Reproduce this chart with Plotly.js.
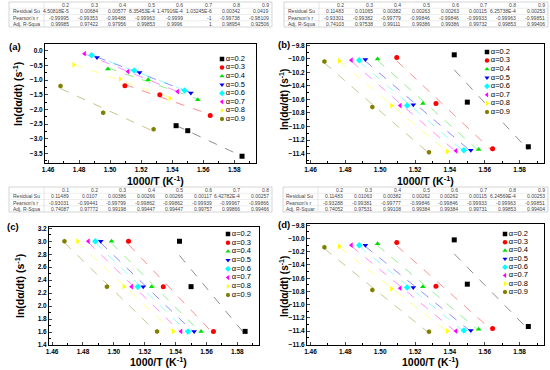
<!DOCTYPE html>
<html><head><meta charset="utf-8">
<script src="https://cdn.plot.ly/plotly-3.0.1.min.js"></script>
<style>html,body{margin:0;padding:0;background:#fff}#chart{width:550px;height:370px}</style>
</head><body><div id="chart"></div>
<script>
// ---------- data ----------
const alphaLabels = ['α=0.2','α=0.3','α=0.4','α=0.5','α=0.6','α=0.7','α=0.8','α=0.9'];
const colors = ['#000000','#ff0000','#00e000','#0000ff','#00ffff','#ff00ff','#ffff00','#808000'];
const symbols = ['square','circle','triangle-up','triangle-down','diamond','triangle-left','triangle-right','hexagon'];

// 1000/T for each alpha (three heating rates)
const invT = [
  [1.5425, 1.5500, 1.5850],
  [1.5095, 1.5320, 1.5645],
  [1.4985, 1.5245, 1.5565],
  [1.4915, 1.5190, 1.5520],
  [1.4880, 1.5155, 1.5480],
  [1.4835, 1.5115, 1.5435],
  [1.4765, 1.5065, 1.5385],
  [1.4680, 1.4955, 1.5280]
];
// panel (a)
const yA = [
  [-2.55, -2.72, -3.59],
  [-1.19, -1.50, -2.20],
  [-0.62, -0.99, -1.67],
  [-0.23, -0.74, -1.44],
  [-0.15, -0.67, -1.35],
  [-0.10, -0.71, -1.39],
  [-0.48, -0.96, -1.62],
  [-1.20, -2.11, -2.67]
];
// panel (b)
const yB = [
  [-9.94, -10.64, -11.30],
  [-9.98, -10.66, -11.33],
  [-10.00, -10.66, -11.34],
  [-10.01, -10.68, -11.35],
  [-10.02, -10.69, -11.35],
  [-10.02, -10.69, -11.36],
  [-10.03, -10.69, -11.37],
  [-10.04, -10.71, -11.38]
];
// panel (c)
const yC = [
  [3.00, 2.30, 1.61],
  [3.00, 2.30, 1.61],
  [3.00, 2.30, 1.61],
  [3.00, 2.30, 1.61],
  [3.00, 2.30, 1.61],
  [3.00, 2.30, 1.61],
  [3.00, 2.30, 1.61],
  [3.00, 2.30, 1.61]
];
// panel (d)
const yD = [
  [-10.02, -10.69, -11.33],
  [-10.06, -10.72, -11.36],
  [-10.08, -10.73, -11.37],
  [-10.10, -10.74, -11.39],
  [-10.10, -10.74, -11.39],
  [-10.10, -10.75, -11.40],
  [-10.12, -10.76, -11.40],
  [-10.13, -10.78, -11.41]
];

// ---------- tables ----------
const rowLabels = ['Residual Su', "Pearson's r", 'Adj. R-Squa'];
const rowLabelsD = ['Residual Su', "Pearson's r", 'Adj. R-Squar'];
const headA = ['0.2','0.3','0.4','0.5','0.6','0.7','0.8','0.9'];
const headC = ['0.1','0.2','0.3','0.4','0.5','0.6','0.7','0.8'];
const residA = ['4.50818E-5','0.00684','0.00577','8.35453E-4','1.47916E-4','1.03245E-6','0.00342','0.0419'];
const pearA  = ['-0.99995','-0.99353','-0.99488','-0.99963','-0.9999','-1','-0.99738','-0.98109'];
const adjA   = ['0.99985','0.97422','0.97956','0.99853','0.9996','1','0.98954','0.92506'];
const residB = ['0.11483','0.01065','0.00382','0.00263','0.00263','0.00115','6.25738E-4','0.00253'];
const pearB  = ['-0.93301','-0.99382','-0.99779','-0.99846','-0.99846','-0.99933','-0.99963','-0.99851'];
const adjB   = ['0.74103','0.97538','0.99111','0.99386','0.99386','0.99732','0.99853','0.99406'];
const residC = ['0.11489','0.0107','0.00386','0.00266','0.00266','0.00117','6.42782E-4','0.00257'];
const pearC  = ['-0.93031','-0.99441','-0.99799','-0.99862','-0.99862','-0.99939','-0.99967','-0.99866'];
const adjC   = ['0.74087','0.97772','0.99198','0.99447','0.99447','0.99757','0.99866','0.99466'];
const residD = ['0.11483','0.01063','0.00382','0.00262','0.00262','0.00115','6.24569E-4','0.00253'];
const pearD  = ['-0.93288','-0.99381','-0.99777','-0.99846','-0.99846','-0.99933','-0.99963','-0.99851'];
const adjD   = ['0.74052','0.97531','0.99108','0.99384','0.99384','0.99731','0.99853','0.99404'];

// ---------- helpers ----------
const W = 550, H = 370;
const px = v => v / W;
const py = v => 1 - v / H;
const FONT = 'Arial, "Liberation Sans", sans-serif';

function fit(xs, ys) {
  const n = xs.length;
  const mx = xs.reduce((a,b)=>a+b,0)/n, my = ys.reduce((a,b)=>a+b,0)/n;
  let sxy = 0, sxx = 0;
  for (let i=0;i<n;i++){ sxy += (xs[i]-mx)*(ys[i]-my); sxx += (xs[i]-mx)**2; }
  const s = sxy/sxx;
  return x => my + s*(x-mx);
}

const traces = [];
const panels = [
  {ys: yA, xa: 'x', ya: 'y'},
  {ys: yB, xa: 'x2', ya: 'y2'},
  {ys: yC, xa: 'x3', ya: 'y3'},
  {ys: yD, xa: 'x4', ya: 'y4'}
];
panels.forEach((p, pi) => {
  p.ys.forEach((ys, i) => {
    const xs = invT[i];
    const f = fit(xs, ys);
    const x0 = Math.min(...xs), x1 = Math.max(...xs);
    traces.push({
      x: [x0, x1], y: [f(x0), f(x1)], mode: 'lines', xaxis: p.xa, yaxis: p.ya,
      line: {color: colors[i], width: 0.8, dash: 'dash'}, opacity: 0.55,
      hoverinfo: 'skip', showlegend: false
    });
  });
  p.ys.forEach((ys, i) => {
    traces.push({
      x: invT[i], y: ys, mode: 'markers', xaxis: p.xa, yaxis: p.ya,
      marker: {color: colors[i], symbol: symbols[i], size: 5, line: {width: 0}},
      showlegend: false, cliponaxis: false
    });
  });
  // custom compact legend
  alphaLabels.forEach((lab, i) => {
    traces.push({
      x: [0], y: [-i], mode: 'markers+text', text: [lab], textposition: 'middle right',
      xaxis: 'x' + (pi + 5), yaxis: 'y' + (pi + 5),
      marker: {color: colors[i], symbol: symbols[i], size: 4.5, line: {width: 0}},
      textfont: {family: FONT, size: 7.5, color: '#000'},
      showlegend: false, cliponaxis: false, hoverinfo: 'skip'
    });
  });
});

// ---------- tables drawn as shapes + annotations ----------
const shapes = [];
const annotations = [];
const tabFont = {family: FONT, size: 5, color: '#444'};
function table(head, rl, r1, r2, r3, x0, x1, y0, y1) {
  const labW = 35;
  const nc = head.length;
  const cw = (x1 - x0 - labW) / nc;
  const rh = (y1 - y0) / 4;
  const line = {color: '#aaa', width: 0.5};
  shapes.push({type: 'rect', xref: 'paper', yref: 'paper', x0: px(x0), x1: px(x1), y0: py(y1), y1: py(y0), line: line});
  for (let r = 1; r < 4; r++) {
    shapes.push({type: 'line', xref: 'paper', yref: 'paper', x0: px(x0), x1: px(x1),
      y0: py(y0 + r*rh), y1: py(y0 + r*rh), line: {color: '#ddd', width: 0.5}});
  }
  shapes.push({type: 'line', xref: 'paper', yref: 'paper', x0: px(x0 + labW), x1: px(x0 + labW),
    y0: py(y1), y1: py(y0), line: {color: '#ccc', width: 0.5}});
  const rows = [head, r1, r2, r3];
  rows.forEach((vals, r) => {
    const yc = y0 + (r + 0.5) * rh;
    if (r > 0) annotations.push({text: rl[r-1], x: px(x0 + 1.5), y: py(yc), xref: 'paper', yref: 'paper',
      xanchor: 'left', yanchor: 'middle', showarrow: false, font: tabFont});
    vals.forEach((v, j) => {
      annotations.push({text: v, x: px(x0 + labW + (j + 1) * cw - 1.5), y: py(yc), xref: 'paper', yref: 'paper',
        xanchor: 'right', yanchor: 'middle', showarrow: false, font: tabFont});
    });
  });
}
table(headA, rowLabels, residA, pearA, adjA, 9, 272, 2, 27);
table(headA, rowLabels, residB, pearB, adjB, 284, 548, 2, 27);
table(headC, rowLabels, residC, pearC, adjC, 9, 272, 187, 212);
table(headA, rowLabelsD, residD, pearD, adjD, 283, 548, 187, 212);

const tickFont = {family: FONT, size: 6.5, color: '#000', weight: 'bold'};
function xax(l, r) {
  return {domain: [px(l), px(r)], range: [1.458, 1.594], dtick: 0.02, tick0: 1.46, tickformat: '.2f',
    showline: true, mirror: true, linecolor: '#000', linewidth: 1, ticks: 'inside', ticklen: 3, tickwidth: 1,
    minor: {ticks: 'inside', ticklen: 2, dtick: 0.01, tickcolor: '#000'},
    showgrid: false, zeroline: false, tickfont: tickFont, automargin: false};
}
function yax(t, b, range, dtick, anchor) {
  return {domain: [py(b), py(t)], range: range, dtick: dtick, tickformat: '.1f', anchor: anchor,
    showline: true, mirror: true, linecolor: '#000', linewidth: 1, ticks: 'inside', ticklen: 3, tickwidth: 1,
    minor: {ticks: 'inside', ticklen: 2, dtick: dtick/2, tickcolor: '#000'},
    showgrid: false, zeroline: false, tickfont: tickFont, automargin: false};
}
function hid(l, r, range, anchor) {
  return {domain: [l, r], range: range, visible: false, fixedrange: true, anchor: anchor};
}
function legendSpace(symX, firstY, lastY, n) {
  const sp = (lastY - firstY) / (n - 1);
  return {
    x: hid(px(symX), px(symX + 30), [0, 1]),
    y: hid(py(lastY + sp/2), py(firstY - sp/2), [-(n - 1) - 0.5, 0.5])
  };
}
const L1 = legendSpace(222, 59, 119, 8);
const L2 = legendSpace(487, 52, 112, 8);
const L3 = legendSpace(228, 234, 295, 8);
const L4 = legendSpace(505, 234, 292, 8);

const titleFont = {family: FONT, size: 10.5, color: '#000', weight: 'bold'};
const titleFontR = {family: FONT, size: 10, color: '#000', weight: 'bold'};
const ytxt = 'ln(dα/dt) (s<sup>-1</sup>)';
const xtxt = '1000/T (K<sup>-1</sup>)';
function ann(text, x, y, angle, font) {
  return {text: text, x: px(x), y: py(y), xref: 'paper', yref: 'paper', showarrow: false,
    textangle: angle, font: font, xanchor: 'center', yanchor: 'middle'};
}
const panelFont = {family: FONT, size: 9.5, color: '#000', weight: 'bold'};
annotations.push(
  ann(ytxt, 17, 94, -90, titleFont), ann(ytxt, 284, 100, -90, titleFontR),
  ann(ytxt, 19, 286, -90, titleFont), ann(ytxt, 284, 287, -90, titleFontR),
  ann(xtxt, 155, 180, 0, titleFont), ann(xtxt, 425, 180, 0, titleFont),
  ann(xtxt, 158, 361, 0, titleFont), ann(xtxt, 430, 361, 0, titleFont),
  ann('(a)', 15, 46, 0, panelFont), ann('(b)', 284, 45, 0, panelFont),
  ann('(c)', 13, 226, 0, panelFont), ann('(d)', 284, 224, 0, panelFont)
);

const layout = {
  width: W, height: H, margin: {l: 0, r: 0, t: 0, b: 0}, showlegend: false,
  paper_bgcolor: '#fff', plot_bgcolor: '#fff',
  xaxis: xax(45, 256), yaxis: yax(44, 163, [-3.82, 0.23], 0.5, 'x'),
  xaxis2: Object.assign(xax(307, 544), {anchor: 'y2'}), yaxis2: yax(44, 163, [-11.54, -9.78], 0.2, 'x2'),
  xaxis3: Object.assign(xax(49, 259), {anchor: 'y3'}), yaxis3: yax(227, 345, [1.4, 3.22], 0.2, 'x3'),
  xaxis4: Object.assign(xax(307, 544), {anchor: 'y4'}), yaxis4: yax(224, 345, [-11.61, -9.78], 0.2, 'x4'),
  xaxis5: Object.assign(L1.x, {anchor: 'y5'}), yaxis5: Object.assign(L1.y, {anchor: 'x5'}),
  xaxis6: Object.assign(L2.x, {anchor: 'y6'}), yaxis6: Object.assign(L2.y, {anchor: 'x6'}),
  xaxis7: Object.assign(L3.x, {anchor: 'y7'}), yaxis7: Object.assign(L3.y, {anchor: 'x7'}),
  xaxis8: Object.assign(L4.x, {anchor: 'y8'}), yaxis8: Object.assign(L4.y, {anchor: 'x8'}),
  shapes: shapes,
  annotations: annotations
};
Plotly.newPlot('chart', traces, layout, {displayModeBar: false, staticPlot: true});
</script>
</body></html>
